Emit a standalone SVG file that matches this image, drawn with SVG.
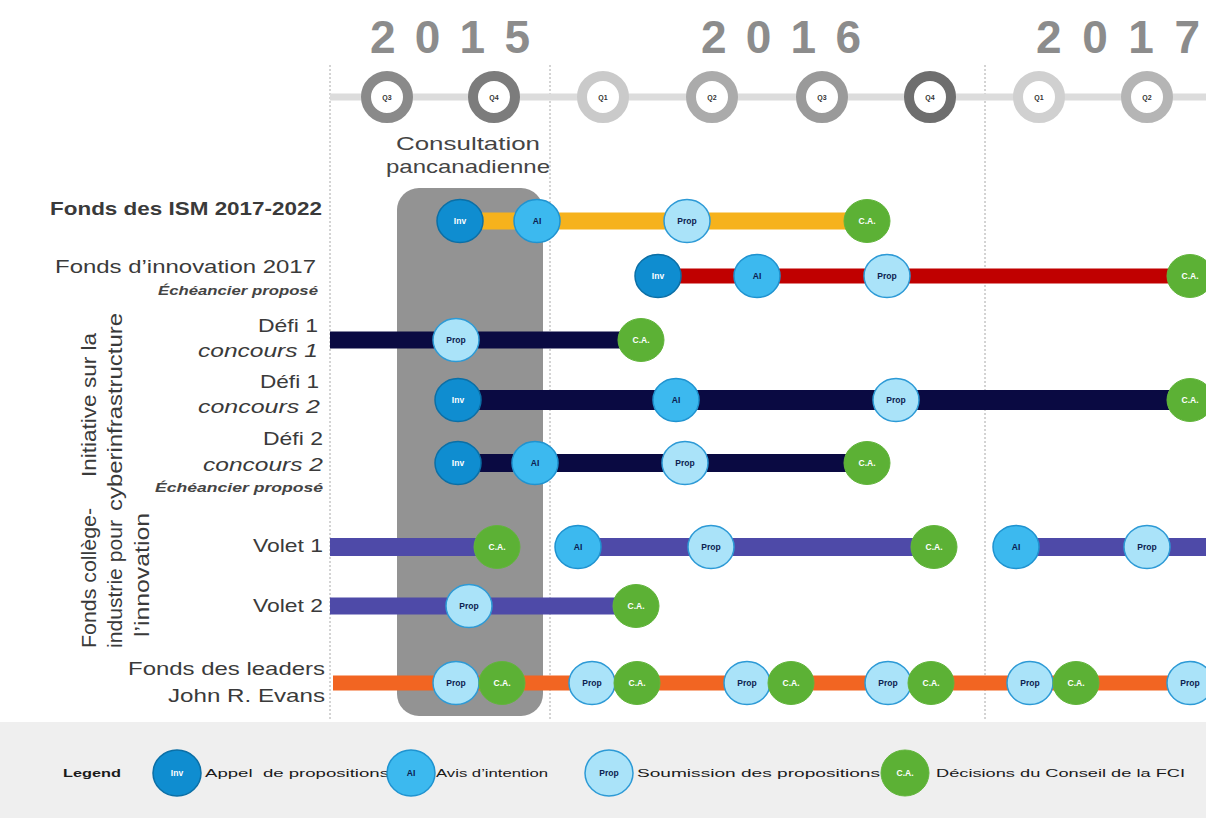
<svg xmlns="http://www.w3.org/2000/svg" width="1206" height="818" viewBox="0 0 1206 818">
<defs>
<style>
.f{font-family:"Liberation Sans",Arial,sans-serif}
.yr{font-size:46px;font-weight:bold;fill:#8c8c8c}
.qr{fill:#fff;stroke-width:10}
.q{font-size:7px;font-weight:bold;fill:#333;text-anchor:middle}
.lbl{font-size:19px;fill:#3a3a3a;text-anchor:end}
.it{font-style:italic}
.sm{font-size:12px;font-weight:bold;font-style:italic;fill:#444;text-anchor:end}
.vt{font-size:20px;fill:#3a3a3a;text-anchor:middle}
.ms{font-size:8.5px;font-weight:bold;text-anchor:middle}
.inv{fill:#0f8dd0;stroke:#0b6fa6;stroke-width:1.5}
.ai{fill:#3cb9ef;stroke:#1f93d0;stroke-width:1.5}
.prop{fill:#aae3f9;stroke:#2d9ad6;stroke-width:1.5}
.ca{fill:#5cb135;stroke:#62b53c;stroke-width:1}
.tw{fill:#fff}
.td{fill:#0c2150}
.dash{stroke:#a8a8a8;stroke-width:1;stroke-dasharray:2 2;fill:none}
.leg{font-size:11.5px;fill:#1a1a1a}
</style>
</defs>
<rect width="1206" height="818" fill="#fff"/>

<g id="years" class="f yr">
<text x="370" y="53" textLength="160" lengthAdjust="spacing">2015</text>
<text x="701" y="53" textLength="160" lengthAdjust="spacing">2016</text>
<text x="1036" y="53" textLength="164" lengthAdjust="spacing">2017</text>
</g>

<g id="gridlines">
<line class="dash" x1="330" y1="65" x2="330" y2="720"/>
<line class="dash" x1="550" y1="65" x2="550" y2="720"/>
<line class="dash" x1="985" y1="65" x2="985" y2="720"/>
</g>

<g id="quarters">
<line x1="330" y1="97" x2="1206" y2="97" stroke="#dcdcdc" stroke-width="7"/>
<g id="q3-2015"><circle class="qr" cx="387" cy="97" r="21" stroke="#8a8a8a"/><text class="f q" x="387" y="100">Q3</text></g>
<g id="q4-2015"><circle class="qr" cx="494" cy="97" r="21" stroke="#7c7c7c"/><text class="f q" x="494" y="100">Q4</text></g>
<g id="q1-2016"><circle class="qr" cx="603" cy="97" r="21" stroke="#cacaca"/><text class="f q" x="603" y="100">Q1</text></g>
<g id="q2-2016"><circle class="qr" cx="712" cy="97" r="21" stroke="#ababab"/><text class="f q" x="712" y="100">Q2</text></g>
<g id="q3-2016"><circle class="qr" cx="822" cy="97" r="21" stroke="#9a9a9a"/><text class="f q" x="822" y="100">Q3</text></g>
<g id="q4-2016"><circle class="qr" cx="930" cy="97" r="21" stroke="#6e6e6e"/><text class="f q" x="930" y="100">Q4</text></g>
<g id="q1-2017"><circle class="qr" cx="1039" cy="97" r="21" stroke="#d0d0d0"/><text class="f q" x="1039" y="100">Q1</text></g>
<g id="q2-2017"><circle class="qr" cx="1147" cy="97" r="21" stroke="#b5b5b5"/><text class="f q" x="1147" y="100">Q2</text></g>
</g>

<g id="consultation">
<rect x="397" y="188" width="146" height="528" rx="22" fill="#939393"/>
<text class="f" x="468" y="150" font-size="19" fill="#444" text-anchor="middle" textLength="144" lengthAdjust="spacingAndGlyphs">Consultation</text>
<text class="f" x="468" y="173" font-size="19" fill="#444" text-anchor="middle" textLength="164" lengthAdjust="spacingAndGlyphs">pancanadienne</text>
</g>

<g id="row-labels" class="f">
<text class="lbl" x="322" y="215" textLength="272" lengthAdjust="spacingAndGlyphs" font-weight="bold" fill="#333">Fonds des ISM 2017-2022</text>
<text class="lbl" x="316" y="273" textLength="261" lengthAdjust="spacingAndGlyphs">Fonds d’innovation 2017</text>
<text class="sm" x="318" y="295" textLength="160" lengthAdjust="spacingAndGlyphs">Échéancier proposé</text>
<text class="lbl" x="318" y="332" textLength="60" lengthAdjust="spacingAndGlyphs">Défi 1</text>
<text class="lbl it" x="318" y="357" textLength="120" lengthAdjust="spacingAndGlyphs">concours 1</text>
<text class="lbl" x="319" y="388" textLength="59" lengthAdjust="spacingAndGlyphs">Défi 1</text>
<text class="lbl it" x="320" y="413" textLength="122" lengthAdjust="spacingAndGlyphs">concours 2</text>
<text class="lbl" x="323" y="445" textLength="60" lengthAdjust="spacingAndGlyphs">Défi 2</text>
<text class="lbl it" x="323" y="471" textLength="120" lengthAdjust="spacingAndGlyphs">concours 2</text>
<text class="sm" x="323" y="492" textLength="168" lengthAdjust="spacingAndGlyphs">Échéancier proposé</text>
<text class="lbl" x="323" y="552" textLength="70" lengthAdjust="spacingAndGlyphs">Volet 1</text>
<text class="lbl" x="323" y="612" textLength="70" lengthAdjust="spacingAndGlyphs">Volet 2</text>
<text class="lbl" x="325" y="675" textLength="197" lengthAdjust="spacingAndGlyphs">Fonds des leaders</text>
<text class="lbl" x="325" y="702" textLength="157" lengthAdjust="spacingAndGlyphs">John R. Evans</text>
</g>

<g id="group-labels" class="f vt">
<text transform="translate(96,405) rotate(-90)" textLength="144" lengthAdjust="spacingAndGlyphs">Initiative sur la</text>
<text transform="translate(122,412) rotate(-90)" textLength="198" lengthAdjust="spacingAndGlyphs">cyberinfrastructure</text>
<text transform="translate(96,578) rotate(-90)" textLength="140" lengthAdjust="spacingAndGlyphs">Fonds collège-</text>
<text transform="translate(122,584) rotate(-90)" textLength="128" lengthAdjust="spacingAndGlyphs">industrie pour</text>
<text transform="translate(149,575) rotate(-90)" textLength="124" lengthAdjust="spacingAndGlyphs">l’innovation</text>
</g>

<g id="connectors">
<rect x="460" y="212.5" width="407" height="17" fill="#f6b21c"/>
<rect x="658" y="268.5" width="532" height="15" fill="#c00000"/>
<rect x="330" y="331.5" width="311" height="17" fill="#0a0a42"/>
<rect x="458" y="390" width="732" height="20" fill="#0a0a42"/>
<rect x="458" y="454" width="409" height="18" fill="#0a0a42"/>
<rect x="330" y="538" width="167" height="18" fill="#4e4aa8"/>
<rect x="578" y="538" width="356" height="18" fill="#4e4aa8"/>
<rect x="1016" y="538" width="190" height="18" fill="#4e4aa8"/>
<rect x="330" y="597.5" width="306" height="17" fill="#4e4aa8"/>
<rect x="333" y="675.5" width="873" height="15" fill="#f26522"/>
</g>

<g id="milestones" class="f">
<g id="ism-inv"><ellipse class="inv" cx="460" cy="221" rx="23" ry="21.5"/><text class="ms tw" x="460" y="224">Inv</text></g>
<g id="ism-ai"><ellipse class="ai" cx="537" cy="221" rx="23" ry="21.5"/><text class="ms td" x="537" y="224">AI</text></g>
<g id="ism-prop"><ellipse class="prop" cx="687" cy="221" rx="23" ry="21.5"/><text class="ms td" x="687" y="224">Prop</text></g>
<g id="ism-ca"><ellipse class="ca" cx="867" cy="221" rx="23" ry="21.5"/><text class="ms tw" x="867" y="224">C.A.</text></g>

<g id="fi-inv"><ellipse class="inv" cx="658" cy="276" rx="23" ry="21.5"/><text class="ms tw" x="658" y="279">Inv</text></g>
<g id="fi-ai"><ellipse class="ai" cx="757" cy="276" rx="23" ry="21.5"/><text class="ms td" x="757" y="279">AI</text></g>
<g id="fi-prop"><ellipse class="prop" cx="887" cy="276" rx="23" ry="21.5"/><text class="ms td" x="887" y="279">Prop</text></g>
<g id="fi-ca"><ellipse class="ca" cx="1190" cy="276" rx="23" ry="21.5"/><text class="ms tw" x="1190" y="279">C.A.</text></g>

<g id="d1c1-prop"><ellipse class="prop" cx="456" cy="340" rx="23" ry="21.5"/><text class="ms td" x="456" y="343">Prop</text></g>
<g id="d1c1-ca"><ellipse class="ca" cx="641" cy="340" rx="23" ry="21.5"/><text class="ms tw" x="641" y="343">C.A.</text></g>

<g id="d1c2-inv"><ellipse class="inv" cx="458" cy="400" rx="23" ry="21.5"/><text class="ms tw" x="458" y="403">Inv</text></g>
<g id="d1c2-ai"><ellipse class="ai" cx="676" cy="400" rx="23" ry="21.5"/><text class="ms td" x="676" y="403">AI</text></g>
<g id="d1c2-prop"><ellipse class="prop" cx="896" cy="400" rx="23" ry="21.5"/><text class="ms td" x="896" y="403">Prop</text></g>
<g id="d1c2-ca"><ellipse class="ca" cx="1190" cy="400" rx="23" ry="21.5"/><text class="ms tw" x="1190" y="403">C.A.</text></g>

<g id="d2c2-inv"><ellipse class="inv" cx="458" cy="463" rx="23" ry="21.5"/><text class="ms tw" x="458" y="466">Inv</text></g>
<g id="d2c2-ai"><ellipse class="ai" cx="535" cy="463" rx="23" ry="21.5"/><text class="ms td" x="535" y="466">AI</text></g>
<g id="d2c2-prop"><ellipse class="prop" cx="685" cy="463" rx="23" ry="21.5"/><text class="ms td" x="685" y="466">Prop</text></g>
<g id="d2c2-ca"><ellipse class="ca" cx="867" cy="463" rx="23" ry="21.5"/><text class="ms tw" x="867" y="466">C.A.</text></g>

<g id="v1-ca1"><ellipse class="ca" cx="497" cy="547" rx="23" ry="21.5"/><text class="ms tw" x="497" y="550">C.A.</text></g>
<g id="v1-ai1"><ellipse class="ai" cx="578" cy="547" rx="23" ry="21.5"/><text class="ms td" x="578" y="550">AI</text></g>
<g id="v1-prop1"><ellipse class="prop" cx="711" cy="547" rx="23" ry="21.5"/><text class="ms td" x="711" y="550">Prop</text></g>
<g id="v1-ca2"><ellipse class="ca" cx="934" cy="547" rx="23" ry="21.5"/><text class="ms tw" x="934" y="550">C.A.</text></g>
<g id="v1-ai2"><ellipse class="ai" cx="1016" cy="547" rx="23" ry="21.5"/><text class="ms td" x="1016" y="550">AI</text></g>
<g id="v1-prop2"><ellipse class="prop" cx="1147" cy="547" rx="23" ry="21.5"/><text class="ms td" x="1147" y="550">Prop</text></g>

<g id="v2-prop"><ellipse class="prop" cx="469" cy="606" rx="23" ry="21.5"/><text class="ms td" x="469" y="609">Prop</text></g>
<g id="v2-ca"><ellipse class="ca" cx="636" cy="606" rx="23" ry="21.5"/><text class="ms tw" x="636" y="609">C.A.</text></g>

<g id="jre-prop1"><ellipse class="prop" cx="456" cy="683" rx="23" ry="21.5"/><text class="ms td" x="456" y="686">Prop</text></g>
<g id="jre-ca1"><ellipse class="ca" cx="502" cy="683" rx="23" ry="21.5"/><text class="ms tw" x="502" y="686">C.A.</text></g>
<g id="jre-prop2"><ellipse class="prop" cx="592" cy="683" rx="23" ry="21.5"/><text class="ms td" x="592" y="686">Prop</text></g>
<g id="jre-ca2"><ellipse class="ca" cx="637" cy="683" rx="23" ry="21.5"/><text class="ms tw" x="637" y="686">C.A.</text></g>
<g id="jre-prop3"><ellipse class="prop" cx="747" cy="683" rx="23" ry="21.5"/><text class="ms td" x="747" y="686">Prop</text></g>
<g id="jre-ca3"><ellipse class="ca" cx="791" cy="683" rx="23" ry="21.5"/><text class="ms tw" x="791" y="686">C.A.</text></g>
<g id="jre-prop4"><ellipse class="prop" cx="888" cy="683" rx="23" ry="21.5"/><text class="ms td" x="888" y="686">Prop</text></g>
<g id="jre-ca4"><ellipse class="ca" cx="931" cy="683" rx="23" ry="21.5"/><text class="ms tw" x="931" y="686">C.A.</text></g>
<g id="jre-prop5"><ellipse class="prop" cx="1030" cy="683" rx="23" ry="21.5"/><text class="ms td" x="1030" y="686">Prop</text></g>
<g id="jre-ca5"><ellipse class="ca" cx="1076" cy="683" rx="23" ry="21.5"/><text class="ms tw" x="1076" y="686">C.A.</text></g>
<g id="jre-prop6"><ellipse class="prop" cx="1190" cy="683" rx="23" ry="21.5"/><text class="ms td" x="1190" y="686">Prop</text></g>
</g>

<g id="legend" class="f">
<rect x="0" y="722" width="1206" height="96" fill="#efefef"/>
<text x="63" y="777" font-size="11" font-weight="bold" fill="#1a1a1a" textLength="58" lengthAdjust="spacingAndGlyphs">Legend</text>
<g id="leg-inv"><ellipse class="inv" cx="177" cy="773" rx="24" ry="23"/><text class="ms tw" x="177" y="776">Inv</text></g>
<text class="leg" x="205" y="777" textLength="184" lengthAdjust="spacingAndGlyphs" xml:space="preserve">Appel  de propositions</text>
<g id="leg-ai"><ellipse class="ai" cx="411" cy="773" rx="24" ry="23"/><text class="ms td" x="411" y="776">AI</text></g>
<text class="leg" x="436" y="777" textLength="112" lengthAdjust="spacingAndGlyphs">Avis d’intention</text>
<g id="leg-prop"><ellipse class="prop" cx="609" cy="773" rx="24" ry="23"/><text class="ms td" x="609" y="776">Prop</text></g>
<text class="leg" x="637" y="777" textLength="243" lengthAdjust="spacingAndGlyphs">Soumission des propositions</text>
<g id="leg-ca"><ellipse class="ca" cx="905" cy="773" rx="24" ry="23"/><text class="ms tw" x="905" y="776">C.A.</text></g>
<text class="leg" x="936" y="777" textLength="249" lengthAdjust="spacingAndGlyphs">Décisions du Conseil de la FCI</text>
</g>
</svg>
